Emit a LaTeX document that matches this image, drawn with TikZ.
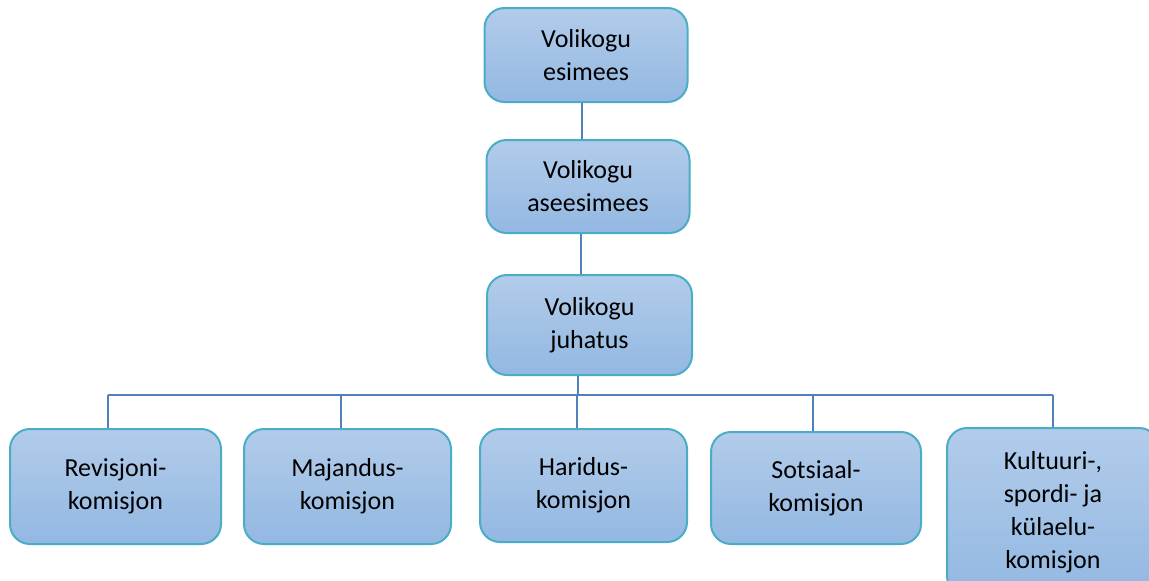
\documentclass[tikz,border=0pt]{standalone}
\usepackage{fontspec}
\setmainfont{Carlito}
\usepackage{tikz}
\usetikzlibrary{positioning}

\definecolor{boxtop}{RGB}{178,204,234}
\definecolor{boxbot}{RGB}{147,184,226}
\definecolor{boxline}{RGB}{75,172,198}
\definecolor{linkline}{RGB}{79,129,189}

\tikzset{
	orgbox/.style={draw=boxline, line width=1pt, rounded corners=10pt, top color=boxtop, bottom color=boxbot,
		align=center, inner sep=0pt, font=\fontsize{13}{16.5}\selectfont},
	link/.style={draw=linkline, line width=1pt}
}

\begin{document}
\begin{tikzpicture}[x=0.5pt, y=-0.5pt]
	\useasboundingbox (0,0) rectangle (1149,580);
	\clip (0,0) rectangle (1149,580);
	
	\node[orgbox, minimum width=101.5pt, minimum height=47pt] (esimees) at (586,55) {Volikogu\\esimees};
	\node[orgbox, minimum width=101.5pt, minimum height=46.5pt] (aseesimees) at (588,186.5) {Volikogu\\aseesimees};
	\node[orgbox, minimum width=102.5pt, minimum height=50pt] (juhatus) at (589.5,325) {Volikogu\\juhatus};
	
	\node[orgbox, minimum width=105.5pt, minimum height=57.5pt] (revisjon) at (115.5,486.5) {Revisjoni-\\komisjon};
	\node[orgbox, minimum width=103.5pt, minimum height=57.5pt] (majandus) at (347.5,486.5) {Majandus-\\komisjon};
	\node[orgbox, minimum width=103.5pt, minimum height=56.5pt] (haridus) at (583.5,485.5) {Haridus-\\komisjon};
	\node[orgbox, minimum width=105pt, minimum height=56pt] (sotsiaal) at (816,488) {Sotsiaal-\\komisjon};
	\node[orgbox, minimum width=106pt, minimum height=84pt] (kultuur) at (1053,512) {Kultuuri-,\\spordi- ja\\külaelu-\\komisjon};
	
	\coordinate (bus) at (0,395);
	
	\draw[link] ([xshift=-2pt]esimees.south) -- ([xshift=-2pt]esimees.south |- aseesimees.north);
	\draw[link] ([xshift=-3.5pt]aseesimees.south) -- ([xshift=-3.5pt]aseesimees.south |- juhatus.north);
	\draw[link] ([xshift=-6pt]juhatus.south) -- ([xshift=-6pt]juhatus.south |- bus);
	
	\draw[link] ([xshift=-4pt]revisjon.north |- bus) -- (kultuur.north |- bus);
	\foreach \n/\dx in {revisjon/-4, majandus/-3.25, haridus/-3.25, sotsiaal/-1.5, kultuur/0}
		\draw[link] ([xshift=\dx pt]\n.north) -- ([xshift=\dx pt]\n.north |- bus);
\end{tikzpicture}
\end{document}
